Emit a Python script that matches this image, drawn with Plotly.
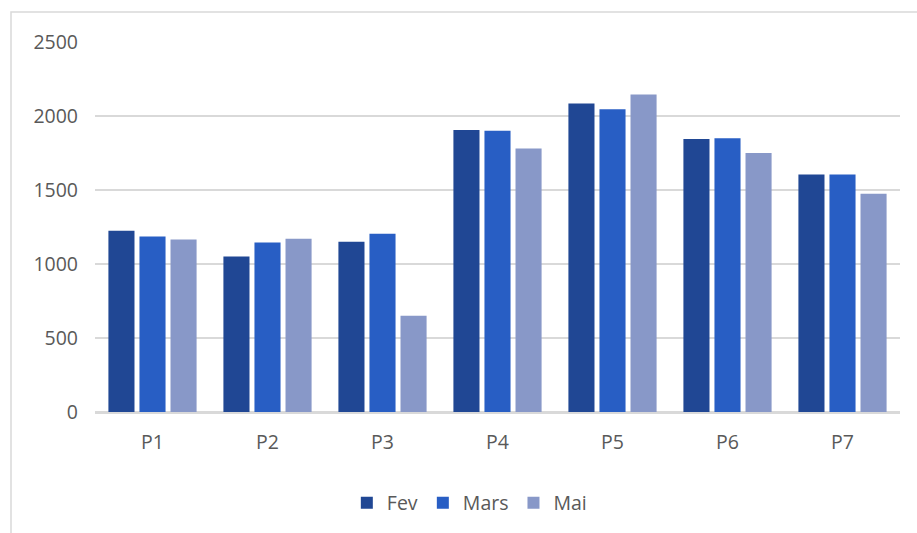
import plotly.graph_objects as go

categories = ["P1", "P2", "P3", "P4", "P5", "P6", "P7"]
fev = [1225, 1050, 1150, 1905, 2085, 1845, 1605]
mars = [1185, 1145, 1205, 1900, 2045, 1850, 1605]
mai = [1165, 1170, 650, 1780, 2145, 1750, 1475]
y_ticks = [0, 500, 1000, 1500, 2000, 2500]

series = [
    ("Fev", fev, "#204794"),
    ("Mars", mars, "#285ec4"),
    ("Mai", mai, "#8898c8"),
]

fig = go.Figure()
for name, values, color in series:
    fig.add_trace(go.Bar(
        x=categories,
        y=values,
        name=name,
        marker=dict(color=color, line=dict(width=0)),
    ))

font_family = "Open Sans, Liberation Sans, sans-serif"
text_color = "#595959"
grid_color = "#d9d9d9"
font_size = 19.5

fig.update_layout(
    width=917,
    height=533,
    margin=dict(l=95, r=17, t=42, b=120),
    paper_bgcolor="white",
    plot_bgcolor="white",
    barmode="group",
    bargap=0.19,
    bargroupgap=0.16,
    font=dict(family=font_family, size=font_size, color=text_color),
    showlegend=True,
    legend=dict(
        orientation="h",
        x=0.465,
        xanchor="center",
        y=-0.19,
        yanchor="top",
        font=dict(size=font_size, color=text_color),
        itemwidth=30,
        traceorder="normal",
    ),
    xaxis=dict(
        showgrid=False,
        showline=True,
        linecolor=grid_color,
        linewidth=1.5,
        ticks="",
        ticklabelstandoff=12,
        tickfont=dict(size=font_size, color=text_color),
    ),
    yaxis=dict(
        range=[0, 2500],
        tickvals=y_ticks,
        showgrid=True,
        gridcolor=grid_color,
        gridwidth=1.5,
        zeroline=True,
        zerolinecolor=grid_color,
        zerolinewidth=1.5,
        showline=False,
        ticks="",
        ticklabelstandoff=16,
        tickfont=dict(size=font_size, color=text_color),
    ),
    shapes=[
        dict(
            type="rect",
            xref="paper",
            yref="paper",
            x0=(11 - 95) / 805,
            x1=(940 - 95) / 805,
            y0=-0.4,
            y1=(413 - 12) / 371,
            line=dict(color=grid_color, width=1.5),
            fillcolor="rgba(0,0,0,0)",
            layer="below",
        )
    ],
)

fig.write_html("out.html")
